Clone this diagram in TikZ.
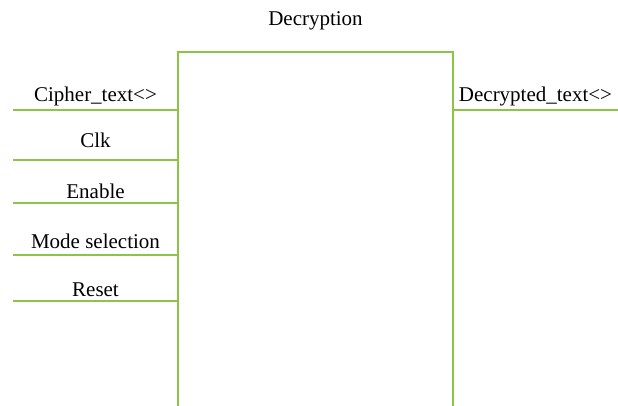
\documentclass[tikz,border=0pt]{standalone}
\usepackage{fontspec}
\setmainfont{Liberation Serif}
\definecolor{sigline}{RGB}{140,196,72}
\begin{document}
\begin{tikzpicture}[x=1pt,y=-1pt,
    sig/.style={draw=sigline,line width=1.2pt},
    lbl/.style={anchor=base,inner sep=0pt,font=\fontsize{21}{24}\selectfont}]
    \useasboundingbox (0,0) rectangle (618,406);
    % block outline, open at the bottom
    \coordinate (bl) at (178,406);
    \coordinate (tl) at (178,52);
    \coordinate (tr) at (453,52);
    \coordinate (br) at (453,406);
    \draw[sig] (bl) -- (tl) -- (tr) -- (br);
    \node[lbl] (title) at (315.5,26) {Decryption};
    % inputs
    \coordinate (cs) at (13,110);  \coordinate (ce) at (178,110);
    \coordinate (ks) at (13,160);  \coordinate (ke) at (178,160);
    \coordinate (es) at (13,203);  \coordinate (ee) at (178,203);
    \coordinate (ms) at (13,255);  \coordinate (me) at (178,255);
    \coordinate (rs) at (13,301);  \coordinate (re) at (178,301);
    \draw[sig] (cs) -- (ce);
    \draw[sig] (ks) -- (ke);
    \draw[sig] (es) -- (ee);
    \draw[sig] (ms) -- (me);
    \draw[sig] (rs) -- (re);
    \node[lbl] (cipher) at (95.5,102) {Cipher\_text<>};
    \node[lbl] (clk) at (95.5,148) {Clk};
    \node[lbl] (enable) at (95.5,198) {Enable};
    \node[lbl] (mode) at (95.5,248) {Mode selection};
    \node[lbl] (reset) at (95.5,296) {Reset};
    % output
    \coordinate (os) at (453,110); \coordinate (oe) at (618,110);
    \draw[sig] (os) -- (oe);
    \node[lbl] (plain) at (535.5,102) {Decrypted\_text<>};
\end{tikzpicture}
\end{document}
